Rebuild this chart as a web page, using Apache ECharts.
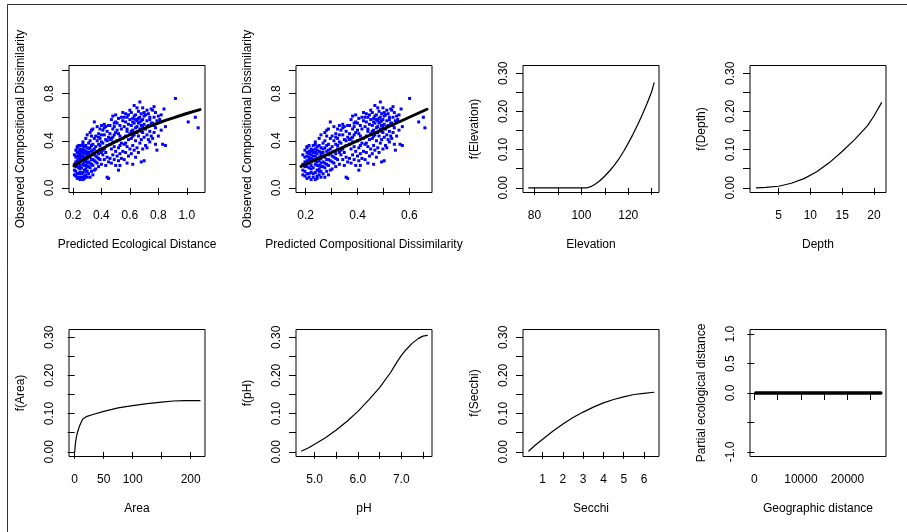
<!DOCTYPE html>
<html><head><meta charset="utf-8">
<script src="https://cdn.jsdelivr.net/npm/echarts@6/dist/echarts.min.js"></script>
<style>html,body{margin:0;padding:0;background:#fff}#c{width:907px;height:532px}</style>
</head><body><div id="c"></div>
<script>
// ---------- Observed vs predicted (site pairs) ----------
const ecoDist = [
0.21,0.21,0.22,0.22,0.22,0.23,0.23,0.23,0.23,0.24,
0.24,0.24,0.24,0.25,0.25,0.25,0.25,0.21,0.22,0.23,
0.24,0.25,0.22,0.23,0.24,0.25,0.21,0.23,0.24,0.25,
0.22,0.24,0.25,0.23,0.24,0.25,
0.26,0.26,0.26,0.26,0.26,0.27,0.27,0.27,0.27,0.27,
0.28,0.28,0.28,0.28,0.28,0.29,0.29,0.29,0.29,0.29,
0.30,0.30,0.30,0.30,0.30,0.26,0.27,0.28,0.29,0.30,
0.26,0.27,0.28,0.29,0.30,0.27,0.28,0.29,0.26,0.30,
0.28,0.29,0.27,0.30,
0.31,0.31,0.31,0.31,0.32,0.32,0.32,0.32,0.32,0.33,
0.33,0.33,0.33,0.34,0.34,0.34,0.34,0.35,0.35,0.35,
0.35,0.31,0.32,0.33,0.34,0.35,0.31,0.33,0.34,0.32,
0.35,0.33,0.34,0.31,
0.36,0.36,0.36,0.36,0.37,0.37,0.37,0.37,0.38,0.38,
0.38,0.38,0.39,0.39,0.39,0.39,0.40,0.40,0.40,0.40,
0.36,0.37,0.38,0.39,0.40,0.38,
0.41,0.41,0.41,0.42,0.42,0.42,0.42,0.43,0.43,0.43,
0.44,0.44,0.44,0.44,0.45,0.45,0.45,0.45,0.41,0.43,
0.44,0.42,
0.46,0.46,0.46,0.46,0.47,0.47,0.47,0.47,0.48,0.48,
0.48,0.48,0.49,0.49,0.49,0.49,0.50,0.50,0.50,0.50,
0.46,0.48,0.49,0.50,
0.51,0.51,0.51,0.52,0.52,0.52,0.52,0.53,0.53,0.53,
0.53,0.54,0.54,0.54,0.55,0.55,0.55,0.55,0.51,0.52,
0.54,0.53,
0.56,0.56,0.56,0.57,0.57,0.57,0.57,0.58,0.58,0.58,
0.58,0.59,0.59,0.59,0.60,0.60,0.60,0.60,0.56,0.58,
0.59,0.57,
0.61,0.61,0.61,0.61,0.62,0.62,0.62,0.62,0.63,0.63,
0.63,0.63,0.64,0.64,0.64,0.64,0.65,0.65,0.65,0.65,
0.61,0.62,0.63,0.64,0.65,0.62,
0.66,0.66,0.66,0.66,0.67,0.67,0.67,0.67,0.68,0.68,
0.68,0.68,0.69,0.69,0.69,0.69,0.70,0.70,0.70,0.70,
0.66,0.67,0.68,0.69,0.70,0.68,
0.71,0.71,0.71,0.72,0.72,0.72,0.72,0.73,0.73,0.73,
0.74,0.74,0.74,0.75,0.75,0.75,0.72,0.74,
0.76,0.76,0.76,0.77,0.77,0.77,0.78,0.78,0.78,0.79,
0.79,0.80,0.80,0.77,
0.81,0.82,0.82,0.83,0.84,0.85,0.85,0.92,1.01,1.06,1.08
];
const predDissim = [
0.189,0.189,0.197,0.197,0.197,0.205,0.205,0.205,0.205,0.213,
0.213,0.213,0.213,0.221,0.221,0.221,0.221,0.189,0.197,0.205,
0.213,0.221,0.197,0.205,0.213,0.221,0.189,0.205,0.213,0.221,
0.197,0.213,0.221,0.205,0.213,0.221,
0.229,0.229,0.229,0.229,0.229,0.237,0.237,0.237,0.237,0.237,
0.244,0.244,0.244,0.244,0.244,0.252,0.252,0.252,0.252,0.252,
0.259,0.259,0.259,0.259,0.259,0.229,0.237,0.244,0.252,0.259,
0.229,0.237,0.244,0.252,0.259,0.237,0.244,0.252,0.229,0.259,
0.244,0.252,0.237,0.259,
0.267,0.267,0.267,0.267,0.274,0.274,0.274,0.274,0.274,0.281,
0.281,0.281,0.281,0.288,0.288,0.288,0.288,0.295,0.295,0.295,
0.295,0.267,0.274,0.281,0.288,0.295,0.267,0.281,0.288,0.274,
0.295,0.281,0.288,0.267,
0.302,0.302,0.302,0.302,0.309,0.309,0.309,0.309,0.316,0.316,
0.316,0.316,0.323,0.323,0.323,0.323,0.330,0.330,0.330,0.330,
0.302,0.309,0.316,0.323,0.330,0.316,
0.336,0.336,0.336,0.343,0.343,0.343,0.343,0.349,0.349,0.349,
0.356,0.356,0.356,0.356,0.362,0.362,0.362,0.362,0.336,0.349,
0.356,0.343,
0.369,0.369,0.369,0.369,0.375,0.375,0.375,0.375,0.381,0.381,
0.381,0.381,0.387,0.387,0.387,0.387,0.393,0.393,0.393,0.393,
0.369,0.381,0.387,0.393,
0.400,0.400,0.400,0.405,0.405,0.405,0.405,0.411,0.411,0.411,
0.411,0.417,0.417,0.417,0.423,0.423,0.423,0.423,0.400,0.405,
0.417,0.411,
0.429,0.429,0.429,0.434,0.434,0.434,0.434,0.440,0.440,0.440,
0.440,0.446,0.446,0.446,0.451,0.451,0.451,0.451,0.429,0.440,
0.446,0.434,
0.457,0.457,0.457,0.457,0.462,0.462,0.462,0.462,0.467,0.467,
0.467,0.467,0.473,0.473,0.473,0.473,0.478,0.478,0.478,0.478,
0.457,0.462,0.467,0.473,0.478,0.462,
0.483,0.483,0.483,0.483,0.488,0.488,0.488,0.488,0.493,0.493,
0.493,0.493,0.498,0.498,0.498,0.498,0.503,0.503,0.503,0.503,
0.483,0.488,0.493,0.498,0.503,0.493,
0.508,0.508,0.508,0.513,0.513,0.513,0.513,0.518,0.518,0.518,
0.523,0.523,0.523,0.528,0.528,0.528,0.513,0.523,
0.532,0.532,0.532,0.537,0.537,0.537,0.542,0.542,0.542,0.546,
0.546,0.551,0.551,0.537,
0.555,0.560,0.560,0.564,0.568,0.573,0.573,0.601,0.636,0.654,0.660
];
const obsDissim = [
0.15,0.28,0.10,0.22,0.32,0.08,0.18,0.27,0.34,0.12,
0.21,0.29,0.36,0.07,0.16,0.25,0.31,0.20,0.14,0.30,
0.24,0.33,0.26,0.12,0.17,0.19,0.11,0.23,0.09,0.28,
0.18,0.31,0.13,0.35,0.26,0.22,
0.09,0.17,0.24,0.30,0.36,0.13,0.20,0.27,0.33,0.39,
0.08,0.15,0.22,0.29,0.35,0.11,0.19,0.26,0.31,0.42,
0.14,0.21,0.28,0.34,0.45,0.32,0.07,0.25,0.16,0.18,
0.27,0.23,0.32,0.36,0.25,0.30,0.19,0.23,0.12,0.30,
0.10,0.14,0.37,0.09,
0.12,0.22,0.30,0.38,0.09,0.17,0.26,0.34,0.47,0.14,
0.24,0.31,0.44,0.19,0.28,0.37,0.50,0.15,0.23,0.33,
0.42,0.27,0.40,0.20,0.11,0.29,0.33,0.36,0.24,0.21,
0.56,0.49,0.32,0.18,
0.16,0.27,0.35,0.44,0.21,0.31,0.40,0.52,0.18,0.29,
0.37,0.46,0.24,0.33,0.42,0.50,0.20,0.30,0.39,0.53,
0.22,0.26,0.43,0.36,0.45,0.25,
0.28,0.38,0.49,0.24,0.33,0.45,0.54,0.30,0.41,0.52,
0.09,0.26,0.36,0.48,0.08,0.22,0.43,0.53,0.32,0.19,
0.40,0.51,
0.25,0.37,0.46,0.53,0.21,0.33,0.42,0.58,0.28,0.39,
0.50,0.61,0.24,0.35,0.45,0.55,0.19,0.31,0.47,0.62,
0.41,0.43,0.52,0.56,
0.27,0.40,0.55,0.15,0.34,0.46,0.59,0.19,0.29,0.44,
0.53,0.25,0.38,0.50,0.31,0.42,0.57,0.64,0.49,0.23,
0.60,0.36,
0.24,0.37,0.52,0.30,0.44,0.56,0.63,0.21,0.35,0.48,
0.60,0.27,0.41,0.54,0.33,0.46,0.58,0.66,0.60,0.50,
0.62,0.38,
0.29,0.42,0.53,0.64,0.20,0.36,0.49,0.59,0.32,0.45,
0.55,0.70,0.26,0.40,0.51,0.62,0.34,0.47,0.57,0.68,
0.48,0.56,0.61,0.58,0.52,0.44,
0.30,0.44,0.55,0.65,0.38,0.50,0.60,0.73,0.22,0.41,
0.53,0.63,0.33,0.47,0.58,0.68,0.23,0.43,0.54,0.61,
0.59,0.56,0.48,0.52,0.64,0.57,
0.36,0.50,0.62,0.34,0.45,0.57,0.66,0.41,0.53,0.63,
0.39,0.48,0.60,0.44,0.55,0.67,0.52,0.58,
0.42,0.55,0.66,0.47,0.60,0.69,0.37,0.51,0.64,0.32,
0.57,0.44,0.61,0.53,
0.58,0.49,0.62,0.37,0.67,0.52,0.36,0.76,0.56,0.60,0.51
];

// fitted lines
const ecoCurveX = [0.207, 0.25, 0.3, 0.35, 0.4, 0.45, 0.5, 0.55, 0.6, 0.65, 0.7, 0.75, 0.8, 0.85, 0.9, 0.95, 1.0, 1.05, 1.093];
const ecoCurveY = [0.187, 0.221, 0.259, 0.295, 0.330, 0.362, 0.393, 0.423, 0.451, 0.478, 0.503, 0.528, 0.551, 0.573, 0.593, 0.613, 0.632, 0.650, 0.665];
const dissimLineX = [0.182, 0.668];
const dissimLineY = [0.182, 0.668];

// ---------- partial functions ----------
const elevX = [77.5, 85, 90, 95, 100, 102.5, 104, 106, 108, 110, 112, 114, 116, 118, 120, 122, 124, 126, 128, 130, 131];
const elevY = [0, 0, 0, 0, 0, 0, 0.003, 0.010, 0.019, 0.031, 0.044, 0.059, 0.076, 0.095, 0.117, 0.140, 0.165, 0.192, 0.221, 0.252, 0.275];
const depthX = [1.5, 3, 5, 7, 9, 11, 13, 15, 17, 19, 20, 21.2];
const depthY = [0, 0.001, 0.004, 0.012, 0.024, 0.042, 0.066, 0.095, 0.127, 0.163, 0.188, 0.223];
const areaX = [0, 1, 2, 3, 5, 8, 11, 14, 17, 20, 30, 50, 75, 100, 125, 150, 170, 190, 216];
const areaY = [0, 0.018, 0.030, 0.039, 0.052, 0.066, 0.077, 0.086, 0.090, 0.092, 0.097, 0.106, 0.115, 0.121, 0.126, 0.130, 0.133, 0.134, 0.134];
const phX = [4.70, 4.85, 5.0, 5.25, 5.5, 5.75, 6.0, 6.25, 6.5, 6.75, 6.9, 7.0, 7.1, 7.25, 7.4, 7.5, 7.6];
const phY = [0.002, 0.010, 0.020, 0.037, 0.057, 0.080, 0.106, 0.136, 0.168, 0.207, 0.235, 0.252, 0.266, 0.284, 0.297, 0.303, 0.305];
const secchiX = [0.32, 0.6, 1, 1.5, 2, 2.5, 3, 3.5, 4, 4.5, 5, 5.5, 6, 6.49];
const secchiY = [0.002, 0.016, 0.033, 0.054, 0.073, 0.090, 0.104, 0.117, 0.128, 0.137, 0.144, 0.150, 0.153, 0.156];
const geoX = [280, 27160];
const geoY = [0, 0];

// ---------- tick values ----------
const ticksObsY = [0, 0.2, 0.4, 0.6, 0.8, 1.0];
const labelsObsY = [0, 0.4, 0.8];
const ticksEcoX = [0.2, 0.4, 0.6, 0.8, 1.0];
const ticksDisX = [0.2, 0.3, 0.4, 0.5, 0.6];
const labelsDisX = [0.2, 0.4, 0.6];
const ticksFY = [0, 0.05, 0.10, 0.15, 0.20, 0.25, 0.30];
const labelsFY = [0, 0.10, 0.20, 0.30];
const ticksElevX = [80, 90, 100, 110, 120, 130];
const labelsElevX = [80, 100, 120];
const ticksDepthX = [5, 10, 15, 20];
const ticksAreaX = [0, 50, 100, 150, 200];
const labelsAreaX = [0, 50, 100, 200];
const ticksPhX = [5.0, 5.5, 6.0, 6.5, 7.0, 7.5];
const labelsPhX = [5.0, 6.0, 7.0];
const ticksSecchiX = [1, 2, 3, 4, 5, 6];
const ticksGeoX = [0, 5000, 10000, 15000, 20000, 25000];
const labelsGeoX = [0, 10000, 20000];
const ticksGeoY = [-1.0, -0.5, 0, 0.5, 1.0];
const labelsGeoY = [-1.0, 0, 0.5, 1.0];

const FONT = '"Liberation Sans", Arial, Helvetica, sans-serif';
const zip = (a, b) => a.map((v, i) => [v, b[i]]);

const panels = [
  {left:69, top:65.5, x:[0.172,1.128], y:[-0.04,1.04], xt:ticksEcoX, xl:ticksEcoX, xd:1, yt:ticksObsY, yl:labelsObsY, yd:1,
   xName:'Predicted Ecological Distance', yName:'Observed Compositional Dissimilarity',
   pts: zip(ecoDist, obsDissim), line: zip(ecoCurveX, ecoCurveY), lw:3},
  {left:296, top:65.5, x:[0.1626,0.6874], y:[-0.04,1.04], xt:ticksDisX, xl:labelsDisX, xd:1, yt:ticksObsY, yl:labelsObsY, yd:1,
   xName:'Predicted Compositional Dissimilarity', yName:'Observed Compositional Dissimilarity',
   pts: zip(predDissim, obsDissim), line: zip(dissimLineX, dissimLineY), lw:3},
  {left:523, top:65.5, x:[75.1,133.1], y:[-0.0123,0.3203], xt:ticksElevX, xl:labelsElevX, xd:0, yt:ticksFY, yl:labelsFY, yd:2,
   xName:'Elevation', yName:'f(Elevation)', line: zip(elevX, elevY), lw:1.2},
  {left:750, top:65.5, x:[0.5,21.9], y:[-0.0123,0.3203], xt:ticksDepthX, xl:ticksDepthX, xd:0, yt:ticksFY, yl:labelsFY, yd:2,
   xName:'Depth', yName:'f(Depth)', line: zip(depthX, depthY), lw:1.2},
  {left:69, top:329.5, x:[-9.8,224.7], y:[-0.0123,0.3203], xt:ticksAreaX, xl:labelsAreaX, xd:0, yt:ticksFY, yl:labelsFY, yd:2,
   xName:'Area', yName:'f(Area)', line: zip(areaX, areaY), lw:1.2},
  {left:296, top:329.5, x:[4.57,7.71], y:[-0.0123,0.3203], xt:ticksPhX, xl:labelsPhX, xd:1, yt:ticksFY, yl:labelsFY, yd:2,
   xName:'pH', yName:'f(pH)', line: zip(phX, phY), lw:1.2},
  {left:523, top:329.5, x:[0.03,6.74], y:[-0.0123,0.3203], xt:ticksSecchiX, xl:ticksSecchiX, xd:0, yt:ticksFY, yl:labelsFY, yd:2,
   xName:'Secchi', yName:'f(Secchi)', line: zip(secchiX, secchiY), lw:1.2},
  {left:750, top:329.5, x:[-943,28280], y:[-1.08,1.08], xt:ticksGeoX, xl:labelsGeoX, xd:0, yt:ticksGeoY, yl:labelsGeoY, yd:1,
   xName:'Geographic distance', yName:'Partial ecological distance', line: zip(geoX, geoY), lw:3.5}
];

const txt = {color:'#000', fontSize:12, fontFamily:FONT};
const grid = [], xAxis = [], yAxis = [], series = [];
panels.forEach((p, i) => {
  grid.push({left:p.left, top:p.top, width:136, height:127, show:true, borderColor:'#000', borderWidth:1,
             backgroundColor:'transparent', containLabel:false, outerBoundsMode:'none'});
  xAxis.push({type:'value', gridIndex:i, min:p.x[0], max:p.x[1], name:p.xName, nameLocation:'middle', nameGap:46,
    nameTextStyle:txt, axisLine:{show:false}, splitLine:{show:false},
    axisTick:{show:true, inside:false, length:7, lineStyle:{color:'#000', width:1}, customValues:p.xt},
    axisLabel:Object.assign({show:true, margin:17, customValues:p.xl, formatter:v => Number(v).toFixed(p.xd)}, txt)});
  yAxis.push({type:'value', gridIndex:i, min:p.y[0], max:p.y[1], name:p.yName, nameLocation:'middle', nameGap:42,
    nameTextStyle:txt, axisLine:{show:false}, splitLine:{show:false},
    axisTick:{show:true, inside:false, length:7, lineStyle:{color:'#000', width:1}, customValues:p.yt},
    axisLabel:Object.assign({show:true, margin:13, rotate:90, customValues:p.yl, formatter:v => Number(v).toFixed(p.yd)}, txt)});
  if (p.pts) {
    series.push({type:'scatter', xAxisIndex:i, yAxisIndex:i, data:p.pts, symbol:'rect', symbolSize:3,
      itemStyle:{color:'#0000ff', opacity:1}, silent:true, z:2});
  }
  series.push({type:'line', xAxisIndex:i, yAxisIndex:i, data:p.line, symbol:'none', showSymbol:false,
    smooth:false, lineStyle:{color:'#000', width:p.lw, cap:'round', join:'round'}, silent:true, z:3});
});

const chart = echarts.init(document.getElementById('c'), null, {renderer:'canvas'});
chart.setOption({
  animation:false, backgroundColor:'#fff',
  grid, xAxis, yAxis, series,
  graphic:[
    {type:'line', shape:{x1:7.5, y1:4.5, x2:907, y2:4.5}, style:{stroke:'#333', lineWidth:1}, silent:true},
    {type:'line', shape:{x1:7.5, y1:4.5, x2:7.5, y2:532}, style:{stroke:'#333', lineWidth:1}, silent:true}
  ]
});
</script></body></html>
